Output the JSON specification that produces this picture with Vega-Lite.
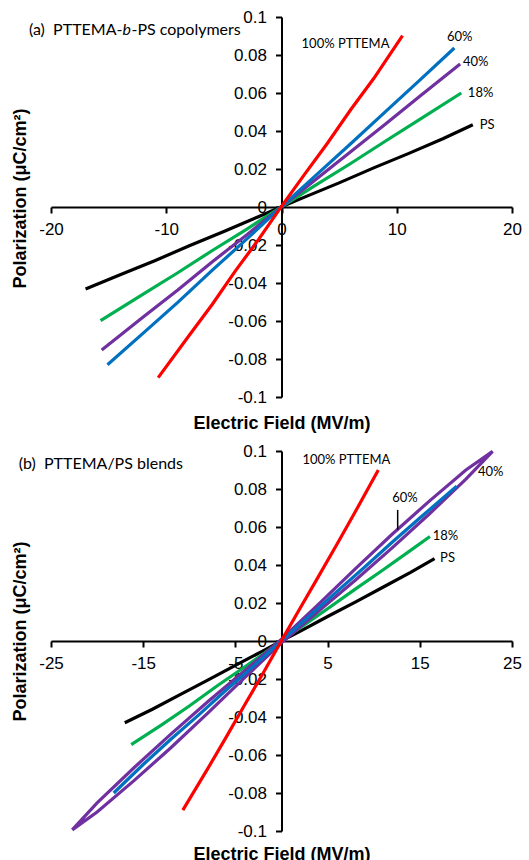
{
  "$schema": "https://vega.github.io/schema/vega-lite/v6.json",
  "background": "white",
  "padding": {"left": 11, "top": 8, "right": 2, "bottom": 2},
  "config": {
    "view": {"stroke": null},
    "concat": {"spacing": 10},
    "axis": {
      "grid": false,
      "domainColor": "#000000",
      "domainWidth": 2,
      "tickColor": "#000000",
      "tickWidth": 2,
      "tickSize": 6,
      "labelFont": "Liberation Sans",
      "labelFontSize": 17,
      "labelColor": "#000000",
      "labelFlush": false,
      "labelOverlap": false,
      "titleFont": "Liberation Sans",
      "titleFontSize": 18,
      "titleFontWeight": "bold",
      "titleColor": "#000000"
    },
    "text": {"font": "Lato", "fontSize": 13, "color": "#000000"}
  },
  "datasets": {
    "a": [
      {"s": "PS", "i": 0, "E": -17.0, "P": -0.0432}, {"s": "PS", "i": 1, "E": -14, "P": -0.0357}, {"s": "PS", "i": 2, "E": -11, "P": -0.0283}, {"s": "PS", "i": 3, "E": -8, "P": -0.0204}, {"s": "PS", "i": 4, "E": -5, "P": -0.0129}, {"s": "PS", "i": 5, "E": -2, "P": -0.0051}, {"s": "PS", "i": 6, "E": 0, "P": 0.0001}, {"s": "PS", "i": 7, "E": 2, "P": 0.0052}, {"s": "PS", "i": 8, "E": 5, "P": 0.0127}, {"s": "PS", "i": 9, "E": 8, "P": 0.0206}, {"s": "PS", "i": 10, "E": 11, "P": 0.0281}, {"s": "PS", "i": 11, "E": 14, "P": 0.0359}, {"s": "PS", "i": 12, "E": 16.6, "P": 0.0433},
      {"s": "18%", "i": 0, "E": -15.7, "P": -0.0598}, {"s": "18%", "i": 1, "E": -12, "P": -0.0458}, {"s": "18%", "i": 2, "E": -9, "P": -0.0346}, {"s": "18%", "i": 3, "E": -6, "P": -0.0229}, {"s": "18%", "i": 4, "E": -3, "P": -0.0116}, {"s": "18%", "i": 5, "E": 0, "P": 0.0001}, {"s": "18%", "i": 6, "E": 3, "P": 0.0116}, {"s": "18%", "i": 7, "E": 6, "P": 0.0229}, {"s": "18%", "i": 8, "E": 9, "P": 0.0346}, {"s": "18%", "i": 9, "E": 12, "P": 0.0461}, {"s": "18%", "i": 10, "E": 15.6, "P": 0.0600},
      {"s": "40%", "i": 0, "E": -15.6, "P": -0.0752}, {"s": "40%", "i": 1, "E": -12, "P": -0.0579}, {"s": "40%", "i": 2, "E": -9, "P": -0.0437}, {"s": "40%", "i": 3, "E": -6, "P": -0.0288}, {"s": "40%", "i": 4, "E": -3, "P": -0.0146}, {"s": "40%", "i": 5, "E": 0, "P": 0.0001}, {"s": "40%", "i": 6, "E": 3, "P": 0.0146}, {"s": "40%", "i": 7, "E": 6, "P": 0.0291}, {"s": "40%", "i": 8, "E": 9, "P": 0.0435}, {"s": "40%", "i": 9, "E": 12, "P": 0.0583}, {"s": "40%", "i": 10, "E": 15.5, "P": 0.0752},
      {"s": "60%", "i": 0, "E": -15.1, "P": -0.0830}, {"s": "60%", "i": 1, "E": -12, "P": -0.0664}, {"s": "60%", "i": 2, "E": -9, "P": -0.0502}, {"s": "60%", "i": 3, "E": -6, "P": -0.0332}, {"s": "60%", "i": 4, "E": -3, "P": -0.0168}, {"s": "60%", "i": 5, "E": 0, "P": 0.0002}, {"s": "60%", "i": 6, "E": 3, "P": 0.0168}, {"s": "60%", "i": 7, "E": 6, "P": 0.0333}, {"s": "60%", "i": 8, "E": 9, "P": 0.0501}, {"s": "60%", "i": 9, "E": 12, "P": 0.0668}, {"s": "60%", "i": 10, "E": 15.0, "P": 0.0837},
      {"s": "100%", "i": 0, "E": -10.7, "P": -0.0898}, {"s": "100%", "i": 1, "E": -8, "P": -0.0675}, {"s": "100%", "i": 2, "E": -6, "P": -0.0512}, {"s": "100%", "i": 3, "E": -4, "P": -0.0336}, {"s": "100%", "i": 4, "E": -2, "P": -0.0172}, {"s": "100%", "i": 5, "E": 0, "P": 0.0003}, {"s": "100%", "i": 6, "E": 2, "P": 0.0172}, {"s": "100%", "i": 7, "E": 4, "P": 0.0337}, {"s": "100%", "i": 8, "E": 6, "P": 0.0512}, {"s": "100%", "i": 9, "E": 8, "P": 0.0676}, {"s": "100%", "i": 10, "E": 10.5, "P": 0.0902}
    ],
    "b": [
      {"s": "PS", "i": 0, "E": -17.0, "P": -0.0430}, {"s": "PS", "i": 1, "E": -14, "P": -0.0359}, {"s": "PS", "i": 2, "E": -11, "P": -0.0282}, {"s": "PS", "i": 3, "E": -8, "P": -0.0206}, {"s": "PS", "i": 4, "E": -5, "P": -0.0128}, {"s": "PS", "i": 5, "E": -2, "P": -0.0052}, {"s": "PS", "i": 6, "E": 0, "P": 0.0001}, {"s": "PS", "i": 7, "E": 2, "P": 0.0051}, {"s": "PS", "i": 8, "E": 5, "P": 0.0129}, {"s": "PS", "i": 9, "E": 8, "P": 0.0205}, {"s": "PS", "i": 10, "E": 11, "P": 0.0283}, {"s": "PS", "i": 11, "E": 14, "P": 0.0361}, {"s": "PS", "i": 12, "E": 16.6, "P": 0.0433},
      {"s": "18%", "i": 0, "E": -16.3, "P": -0.0545}, {"s": "18%", "i": 1, "E": -13, "P": -0.0441}, {"s": "18%", "i": 2, "E": -10, "P": -0.0342}, {"s": "18%", "i": 3, "E": -7, "P": -0.0237}, {"s": "18%", "i": 4, "E": -4, "P": -0.0137}, {"s": "18%", "i": 5, "E": 0, "P": 0.0001}, {"s": "18%", "i": 6, "E": 2, "P": 0.0069}, {"s": "18%", "i": 7, "E": 5, "P": 0.0170}, {"s": "18%", "i": 8, "E": 8, "P": 0.0273}, {"s": "18%", "i": 9, "E": 11, "P": 0.0374}, {"s": "18%", "i": 10, "E": 14, "P": 0.0477}, {"s": "18%", "i": 11, "E": 16.1, "P": 0.0550},
      {"s": "40%", "i": 0, "E": -22.7, "P": -0.0994}, {"s": "40%", "i": 1, "E": -20, "P": -0.0900}, {"s": "40%", "i": 2, "E": -16, "P": -0.0735}, {"s": "40%", "i": 3, "E": -12, "P": -0.0562}, {"s": "40%", "i": 4, "E": -8, "P": -0.0380}, {"s": "40%", "i": 5, "E": -4, "P": -0.0193}, {"s": "40%", "i": 6, "E": 0, "P": -0.0010}, {"s": "40%", "i": 7, "E": 4, "P": 0.0157}, {"s": "40%", "i": 8, "E": 8, "P": 0.0320}, {"s": "40%", "i": 9, "E": 12, "P": 0.0490}, {"s": "40%", "i": 10, "E": 16, "P": 0.0667}, {"s": "40%", "i": 11, "E": 20, "P": 0.0852}, {"s": "40%", "i": 12, "E": 22.9, "P": 0.0998},
      {"s": "40%", "i": 13, "E": 20, "P": 0.0900}, {"s": "40%", "i": 14, "E": 16, "P": 0.0735}, {"s": "40%", "i": 15, "E": 12, "P": 0.0562}, {"s": "40%", "i": 16, "E": 8, "P": 0.0380}, {"s": "40%", "i": 17, "E": 4, "P": 0.0193}, {"s": "40%", "i": 18, "E": 0, "P": 0.0010}, {"s": "40%", "i": 19, "E": -4, "P": -0.0157}, {"s": "40%", "i": 20, "E": -8, "P": -0.0320}, {"s": "40%", "i": 21, "E": -12, "P": -0.0490}, {"s": "40%", "i": 22, "E": -16, "P": -0.0667}, {"s": "40%", "i": 23, "E": -20, "P": -0.0852}, {"s": "40%", "i": 24, "E": -22.7, "P": -0.0994},
      {"s": "60%", "i": 0, "E": -18.2, "P": -0.0800}, {"s": "60%", "i": 1, "E": -15, "P": -0.0650}, {"s": "60%", "i": 2, "E": -12, "P": -0.0517}, {"s": "60%", "i": 3, "E": -9, "P": -0.0390}, {"s": "60%", "i": 4, "E": -6, "P": -0.0258}, {"s": "60%", "i": 5, "E": -3, "P": -0.0131}, {"s": "60%", "i": 6, "E": 0, "P": 0.0001}, {"s": "60%", "i": 7, "E": 3, "P": 0.0130}, {"s": "60%", "i": 8, "E": 6, "P": 0.0260}, {"s": "60%", "i": 9, "E": 9, "P": 0.0388}, {"s": "60%", "i": 10, "E": 12, "P": 0.0520}, {"s": "60%", "i": 11, "E": 15, "P": 0.0647}, {"s": "60%", "i": 12, "E": 19.0, "P": 0.0815},
      {"s": "100%", "i": 0, "E": -10.7, "P": -0.0890}, {"s": "100%", "i": 1, "E": -8, "P": -0.0672}, {"s": "100%", "i": 2, "E": -6, "P": -0.0506}, {"s": "100%", "i": 3, "E": -4, "P": -0.0337}, {"s": "100%", "i": 4, "E": -2, "P": -0.0170}, {"s": "100%", "i": 5, "E": 0, "P": 0.0002}, {"s": "100%", "i": 6, "E": 2, "P": 0.0171}, {"s": "100%", "i": 7, "E": 4, "P": 0.0339}, {"s": "100%", "i": 8, "E": 6, "P": 0.0508}, {"s": "100%", "i": 9, "E": 8, "P": 0.0680}, {"s": "100%", "i": 10, "E": 10.5, "P": 0.0900}
    ],
    "labA": [
      {"E": 1.74, "P": 0.0858, "t": "100% PTTEMA"},
      {"E": 14.35, "P": 0.0895, "t": "60%"},
      {"E": 15.74, "P": 0.0763, "t": "40%"},
      {"E": 16.17, "P": 0.0600, "t": "18%"},
      {"E": 17.2, "P": 0.0432, "t": "PS"}
    ],
    "labB": [
      {"E": 2.27, "P": 0.0955, "t": "100% PTTEMA"},
      {"E": 21.3, "P": 0.0892, "t": "40%"},
      {"E": 12.0, "P": 0.0755, "t": "60%"},
      {"E": 16.4, "P": 0.0554, "t": "18%"},
      {"E": 17.2, "P": 0.0438, "t": "PS"}
    ],
    "headA1": [{"E": -13.8, "P": 0.0932, "t": "(a)\u00a0 PTTEMA-"}],
    "headA2": [{"E": -13.8, "P": 0.0932, "t": "b"}],
    "headA3": [{"E": -13.8, "P": 0.0932, "t": "-PS copolymers"}],
    "headB": [{"E": -28.5, "P": 0.0929, "t": "(b)\u00a0 PTTEMA/PS blends"}],
    "ptrB": [{"E": 12.6, "P": 0.069, "P2": 0.0586}]
  },
  "vconcat": [
    {
      "width": 461,
      "height": 380,
      "layer": [
        {
          "data": {"name": "a"},
          "mark": {"type": "line", "strokeWidth": 3.2},
          "encoding": {
            "x": {"field": "E", "type": "quantitative", "scale": {"domain": [-20, 20], "nice": false, "zero": false},
              "axis": {"orient": "bottom", "offset": -190, "values": [-20, -10, 0, 10, 20], "tickCount": 20, "labelExpr": "toString(datum.value)", "labelOverlap": false, "labelPadding": 8, "title": "Electric Field (MV/m)", "titleY": 207}},
            "y": {"field": "P", "type": "quantitative", "scale": {"domain": [-0.1, 0.1], "nice": false, "zero": false},
              "axis": {"orient": "left", "offset": -230.5, "values": [-0.1, -0.08, -0.06, -0.04, -0.02, 0, 0.02, 0.04, 0.06, 0.08, 0.1], "tickCount": 20, "labelExpr": "toString(datum.value)", "labelOverlap": false, "labelPadding": 9, "title": "Polarization (μC/cm²)", "titleX": -261.5, "titleY": 181, "titleBaseline": "middle"}},
            "color": {"field": "s", "type": "nominal", "scale": {"domain": ["PS", "18%", "40%", "60%", "100%"], "range": ["#000000", "#00B050", "#7030A0", "#0070C0", "#FF0000"]}, "legend": null},
            "order": {"field": "i", "type": "quantitative"}
          }
        },
        {
          "data": {"name": "labA"},
          "mark": {"type": "text", "align": "left", "baseline": "middle"},
          "encoding": {"x": {"field": "E", "type": "quantitative"}, "y": {"field": "P", "type": "quantitative"}, "text": {"field": "t"}}
        },
        {
          "data": {"name": "headA1"},
          "mark": {"type": "text", "align": "right", "baseline": "middle", "fontSize": 16},
          "encoding": {"x": {"field": "E", "type": "quantitative"}, "y": {"field": "P", "type": "quantitative"}, "text": {"field": "t"}}
        },
        {
          "data": {"name": "headA2"},
          "mark": {"type": "text", "align": "left", "baseline": "middle", "fontSize": 16, "fontStyle": "italic"},
          "encoding": {"x": {"field": "E", "type": "quantitative"}, "y": {"field": "P", "type": "quantitative"}, "text": {"field": "t"}}
        },
        {
          "data": {"name": "headA3"},
          "mark": {"type": "text", "align": "left", "baseline": "middle", "fontSize": 16, "dx": 9},
          "encoding": {"x": {"field": "E", "type": "quantitative"}, "y": {"field": "P", "type": "quantitative"}, "text": {"field": "t"}}
        }
      ]
    },
    {
      "width": 461,
      "height": 380,
      "layer": [
        {
          "data": {"name": "b"},
          "mark": {"type": "line", "strokeWidth": 3.2},
          "encoding": {
            "x": {"field": "E", "type": "quantitative", "scale": {"domain": [-25, 25], "nice": false, "zero": false},
              "axis": {"orient": "bottom", "offset": -190, "values": [-25, -15, -5, 5, 15, 25], "tickCount": 20, "labelExpr": "toString(datum.value)", "labelOverlap": false, "labelPadding": 8, "title": "Electric Field (MV/m)", "titleY": 204}},
            "y": {"field": "P", "type": "quantitative", "scale": {"domain": [-0.1, 0.1], "nice": false, "zero": false},
              "axis": {"orient": "left", "offset": -230.5, "values": [-0.1, -0.08, -0.06, -0.04, -0.02, 0, 0.02, 0.04, 0.06, 0.08, 0.1], "tickCount": 20, "labelExpr": "toString(datum.value)", "labelOverlap": false, "labelPadding": 9, "title": "Polarization (μC/cm²)", "titleX": -261.5, "titleY": 180, "titleBaseline": "middle"}},
            "color": {"field": "s", "type": "nominal", "scale": {"domain": ["PS", "18%", "40%", "60%", "100%"], "range": ["#000000", "#00B050", "#7030A0", "#0070C0", "#FF0000"]}, "legend": null},
            "order": {"field": "i", "type": "quantitative"}
          }
        },
        {
          "data": {"name": "ptrB"},
          "mark": {"type": "rule", "color": "#000000", "strokeWidth": 1.5},
          "encoding": {"x": {"field": "E", "type": "quantitative"}, "y": {"field": "P", "type": "quantitative"}, "y2": {"field": "P2"}}
        },
        {
          "data": {"name": "labB"},
          "mark": {"type": "text", "align": "left", "baseline": "middle"},
          "encoding": {"x": {"field": "E", "type": "quantitative"}, "y": {"field": "P", "type": "quantitative"}, "text": {"field": "t"}}
        },
        {
          "data": {"name": "headB"},
          "mark": {"type": "text", "align": "left", "baseline": "middle", "fontSize": 16},
          "encoding": {"x": {"field": "E", "type": "quantitative"}, "y": {"field": "P", "type": "quantitative"}, "text": {"field": "t"}}
        }
      ]
    }
  ]
}
